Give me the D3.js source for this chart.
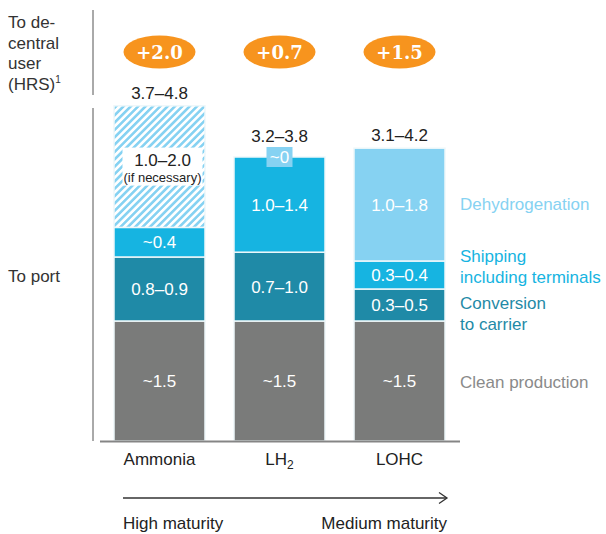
<!DOCTYPE html>
<html>
<head>
<meta charset="utf-8">
<script src="https://cdn.jsdelivr.net/npm/d3@7"></script>
<style>
  body { margin: 0; background: #fff; }
  svg text { font-family: "Liberation Sans", Arial, sans-serif; }
</style>
</head>
<body>
<svg id="chart" width="606" height="534"></svg>
<script>
// data (cost ranges, segment heights are midpoint estimates)
const categories = ["Ammonia", "LH2", "LOHC"];
const production = [1.5, 1.5, 1.5];
const conversion = [0.8, 0.86, 0.4];
const shipping = [0.37, 1.19, 0.35];
const dehydrogenation = [1.52, 0, 1.41];
const optional = [true, false, false]; // hatched: only if necessary

const productionLabels = ["~1.5", "~1.5", "~1.5"];
const conversionLabels = ["0.8–0.9", "0.7–1.0", "0.3–0.5"];
const shippingLabels = ["~0.4", "1.0–1.4", "0.3–0.4"];
const dehydrogenationLabels = ["1.0–2.0", "~0", "1.0–1.8"];
const totalLabels = ["3.7–4.8", "3.2–3.8", "3.1–4.2"];
const deltaLabels = ["+2.0", "+0.7", "+1.5"];

const seriesNames = ["Clean production", "Conversion", "Shipping", "Dehydrogenation"];
const colors = {
  "Clean production": "#7a7b7a",
  "Conversion": "#1f8aa7",
  "Shipping": "#16b4e1",
  "Dehydrogenation": "#86d2f2"
};

const fs = 17;
const svg = d3.select("#chart");

const x = d3.scaleBand()
  .domain(categories)
  .range([99.5, 459.5])
  .paddingInner(0.2417)
  .paddingOuter(0.1208);

const y = d3.scaleLinear().domain([0, 5]).range([441, 41]);

const rows = categories.map((c, i) => ({
  cat: c,
  "Clean production": production[i],
  "Conversion": conversion[i],
  "Shipping": shipping[i],
  "Dehydrogenation": dehydrogenation[i],
  labels: [productionLabels[i], conversionLabels[i], shippingLabels[i], dehydrogenationLabels[i]],
  optional: optional[i],
  total: totalLabels[i],
  delta: deltaLabels[i]
}));

const stacked = d3.stack().keys(seriesNames)(rows);

// hatch pattern
const defs = svg.append("defs");
const pat = defs.append("pattern")
  .attr("id", "hatch")
  .attr("patternUnits", "userSpaceOnUse")
  .attr("width", 5.2).attr("height", 5.2)
  .attr("patternTransform", "rotate(45)");
pat.append("rect").attr("width", 5.2).attr("height", 5.2).attr("fill", "#fff");
pat.append("rect").attr("x", 0).attr("width", 2.6).attr("height", 5.2).attr("fill", colors["Dehydrogenation"]);

// divider line on the left
svg.append("line").attr("x1", 93).attr("x2", 93).attr("y1", 10).attr("y2", 95)
  .attr("stroke", "#555").attr("stroke-width", 1);
svg.append("line").attr("x1", 93).attr("x2", 93).attr("y1", 108).attr("y2", 441)
  .attr("stroke", "#555").attr("stroke-width", 1);

// segments
stacked.forEach((layer, li) => {
  svg.append("g").selectAll("rect")
    .data(layer)
    .join("rect")
    .attr("x", d => x(d.data.cat))
    .attr("width", x.bandwidth())
    .attr("y", d => y(d[1]))
    .attr("height", d => y(d[0]) - y(d[1]))
    .attr("fill", d => (layer.key === "Dehydrogenation" && d.data.optional) ? "url(#hatch)" : colors[layer.key])
    .attr("stroke", "#eef7fa")
    .attr("stroke-width", d => d[1] - d[0] > 0 ? 1.5 : 0);

  layer.forEach(d => {
    const label = d.data.labels[li];
    const cx = x(d.data.cat) + x.bandwidth() / 2;
    const h = d[1] - d[0];
    if (layer.key === "Dehydrogenation" && d.data.optional) {
      const cy = y((d[0] + d[1]) / 2) + 2;
      svg.append("rect").attr("x", cx - 37).attr("y", cy - 21).attr("width", 80).attr("height", 38).attr("fill", "#fff");
      svg.append("text").attr("x", cx + 3).attr("y", cy - 3).attr("text-anchor", "middle")
        .attr("font-size", fs).attr("fill", "#222").text(label);
      svg.append("text").attr("x", cx + 3).attr("y", cy + 13).attr("text-anchor", "middle")
        .attr("font-size", 13).attr("fill", "#222").text("(if necessary)");
    } else if (h === 0) {
      const cy = y(d[1]);
      svg.append("rect").attr("x", cx - 13).attr("y", cy - 10).attr("width", 26).attr("height", 20)
        .attr("fill", colors[layer.key]);
      svg.append("text").attr("x", cx).attr("y", cy + 6).attr("text-anchor", "middle")
        .attr("font-size", fs).attr("fill", "#fff").text(label);
    } else {
      svg.append("text").attr("x", cx).attr("y", y((d[0] + d[1]) / 2) + 6).attr("text-anchor", "middle")
        .attr("font-size", fs).attr("fill", "#fff").text(label);
    }
  });
});

// totals above bars
const topLayer = stacked[stacked.length - 1];
topLayer.forEach(d => {
  const cx = x(d.data.cat) + x.bandwidth() / 2;
  const gap = d[1] - d[0] === 0 ? 15 : 7;
  svg.append("text").attr("x", cx).attr("y", y(d[1]) - gap).attr("text-anchor", "middle")
    .attr("font-size", fs).attr("fill", "#222").text(d.data.total);
});

// orange delta bubbles
rows.forEach(r => {
  const cx = x(r.cat) + x.bandwidth() / 2;
  svg.append("ellipse").attr("cx", cx).attr("cy", 52).attr("rx", 36).attr("ry", 16.5).attr("fill", "#f7941e");
  svg.append("text").attr("x", cx).attr("y", 58.5).attr("text-anchor", "middle")
    .style("font-family", "'DejaVu Serif', serif").attr("font-weight", "bold")
    .attr("font-size", 18).attr("fill", "#fff").text(r.delta);
});

// baseline
svg.append("line").attr("x1", 100).attr("x2", 460).attr("y1", 441.5).attr("y2", 441.5)
  .attr("stroke", "#858585").attr("stroke-width", 2);

// category labels
const xAxis = svg.append("g").attr("transform", "translate(0,441)")
  .call(d3.axisBottom(x).tickSize(0).tickPadding(18).tickFormat(() => ""));
xAxis.select(".domain").remove();
xAxis.selectAll(".tick").each(function(c) {
  const t = d3.select(this).append("text").attr("y", 24).attr("text-anchor", "middle")
    .attr("font-size", fs).attr("fill", "#222");
  if (c === "LH2") {
    t.append("tspan").text("LH");
    t.append("tspan").attr("font-size", 12).attr("dy", 4).text("2");
  } else {
    t.text(c);
  }
});

// left row labels
const leftLines = ["To de-", "central", "user", "(HRS)"];
leftLines.forEach((s, i) => {
  const t = svg.append("text").attr("x", 8).attr("y", 28 + i * 20.7)
    .attr("font-size", fs).attr("fill", "#333").text(s);
  if (i === 3) t.append("tspan").attr("font-size", 10).attr("dy", -7).text("1");
});
svg.append("text").attr("x", 8).attr("y", 282).attr("font-size", fs).attr("fill", "#333").text("To port");

// legend on the right
const legend = [
  { lines: ["Dehydrogenation"], y: 210, color: colors["Dehydrogenation"] },
  { lines: ["Shipping", "including terminals"], y: 262, color: colors["Shipping"] },
  { lines: ["Conversion", "to carrier"], y: 309, color: colors["Conversion"] },
  { lines: ["Clean production"], y: 388, color: "#8a8a8a" }
];
legend.forEach(l => {
  l.lines.forEach((s, i) => {
    svg.append("text").attr("x", 460).attr("y", l.y + i * 20.5)
      .attr("font-size", fs).attr("fill", l.color).text(s);
  });
});

// maturity arrow
svg.append("line").attr("x1", 123).attr("x2", 447).attr("y1", 498).attr("y2", 498)
  .attr("stroke", "#333").attr("stroke-width", 1.3);
svg.append("path").attr("d", "M439,492.5 L447,498 L439,503.5")
  .attr("fill", "none").attr("stroke", "#333").attr("stroke-width", 1.3);
svg.append("text").attr("x", 123).attr("y", 529).attr("font-size", fs).attr("fill", "#222").text("High maturity");
svg.append("text").attr("x", 447).attr("y", 529).attr("text-anchor", "end").attr("font-size", fs).attr("fill", "#222").text("Medium maturity");
</script>
</body>
</html>
